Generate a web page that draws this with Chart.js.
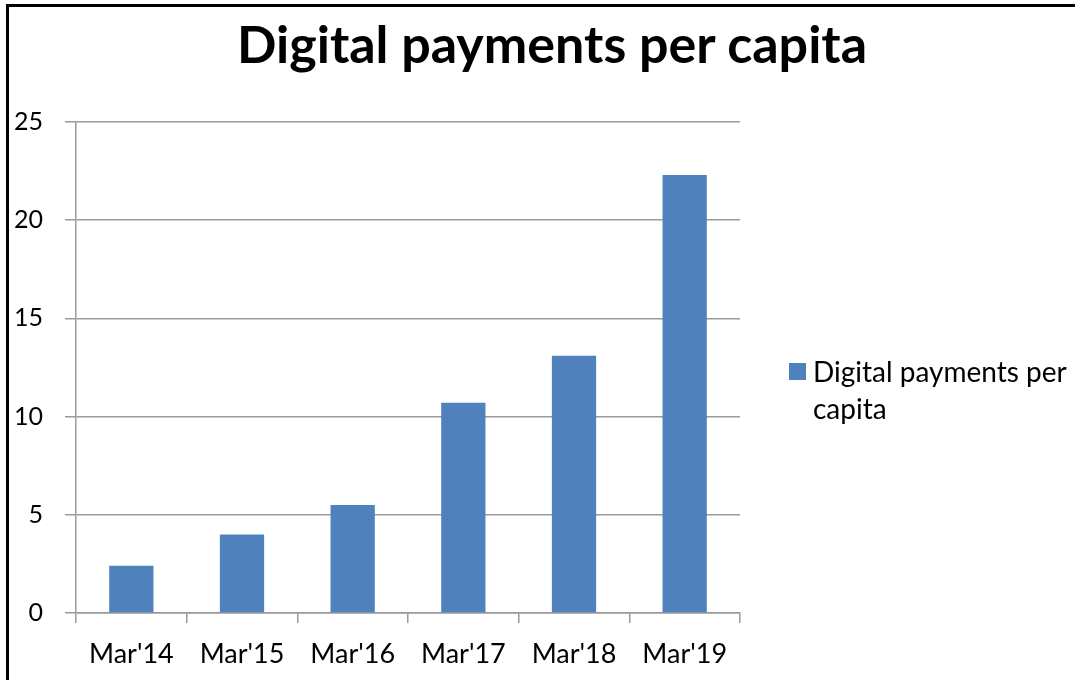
<!DOCTYPE html>
<html lang="en">
<head>
    <meta charset="UTF-8">
    <title>Digital payments per capita</title>
    <style>
        body {
            margin: 0;
            background: #fff;
        }
        #wrap {
            position: relative;
            width: 1075px;
            height: 680px;
            overflow: hidden;
        }
        #frame {
            position: absolute;
            left: 6px;
            top: 4px;
            right: -20px;
            bottom: -20px;
            border-left: 3px solid #000;
            border-top: 3px solid #000;
        }
        #title {
            position: absolute;
            left: 552px;
            top: 12px;
            transform: translateX(-50%);
            font-family: Lato, sans-serif;
            font-weight: bold;
            font-size: 52px;
            line-height: 1.2;
            color: #000;
            white-space: nowrap;
        }
        #legend {
            position: absolute;
            left: 789px;
            top: 353px;
            font-family: Lato, sans-serif;
            font-size: 28px;
            line-height: 37px;
            color: #000;
        }
        #legend .box {
            position: absolute;
            left: 0;
            top: 10px;
            width: 17px;
            height: 17px;
        }
        #legend .txt {
            margin-left: 24px;
            white-space: nowrap;
        }
    </style>
    <script src="https://cdn.jsdelivr.net/npm/chart.js"></script>
</head>
<body>
<div id="wrap">
    <canvas id="paymentsChart" width="1075" height="680"></canvas>
    <div id="frame"></div>
    <div id="title"></div>
    <div id="legend"><span class="box"></span><div class="txt"></div></div>
</div>

<script>
    // values
    const categories = ["Mar'14", "Mar'15", "Mar'16", "Mar'17", "Mar'18", "Mar'19"];
    const perCapita = [2.4, 4.0, 5.5, 10.7, 13.1, 22.3];
    const yTicks = [0, 5, 10, 15, 20, 25];
    const seriesName = 'Digital payments per capita';
    const chartTitle = 'Digital payments per capita';

    const barColor = '#4F81BD';
    const gridColor = '#9a9a9a';

    document.getElementById('title').textContent = chartTitle;

    // html legend, wrapped like the original
    document.querySelector('#legend .box').style.background = barColor;
    document.querySelector('#legend .txt').innerHTML = 'Digital payments per<br>capita';

    const ctx = document.getElementById('paymentsChart').getContext('2d');
    new Chart(ctx, {
        type: 'bar',
        data: {
            labels: categories,
            datasets: [{
                label: seriesName,
                data: perCapita,
                backgroundColor: barColor,
                borderWidth: 0,
                barPercentage: 0.4,
                categoryPercentage: 1
            }]
        },
        options: {
            responsive: false,
            animation: false,
            layout: {
                padding: { left: 0, right: 335, top: 122, bottom: 0 }
            },
            plugins: {
                legend: { display: false },
                tooltip: { enabled: false },
                title: { display: false }
            },
            scales: {
                x: {
                    offset: true,
                    grid: {
                        offset: true,
                        drawOnChartArea: false,
                        drawTicks: true,
                        tickLength: 10,
                        color: gridColor,
                        lineWidth: 1.5
                    },
                    border: { display: true, color: gridColor, width: 1.5 },
                    ticks: {
                        color: '#000',
                        padding: 15,
                        maxRotation: 0,
                        font: { family: 'Lato', size: 27, lineHeight: 1.2 }
                    },
                    afterFit: scale => { scale.height = 67; }
                },
                y: {
                    min: 0,
                    max: 25,
                    afterBuildTicks: scale => {
                        scale.ticks = yTicks.map(v => ({ value: v }));
                    },
                    grid: {
                        drawTicks: true,
                        tickLength: 11,
                        color: gridColor,
                        lineWidth: 1.5
                    },
                    border: { display: true, color: gridColor, width: 1.5 },
                    ticks: {
                        color: '#000',
                        padding: 22,
                        font: { family: 'Lato', size: 25, lineHeight: 1.2 }
                    },
                    afterFit: scale => { scale.width = 76; }
                }
            }
        }
    });
</script>
</body>
</html>
